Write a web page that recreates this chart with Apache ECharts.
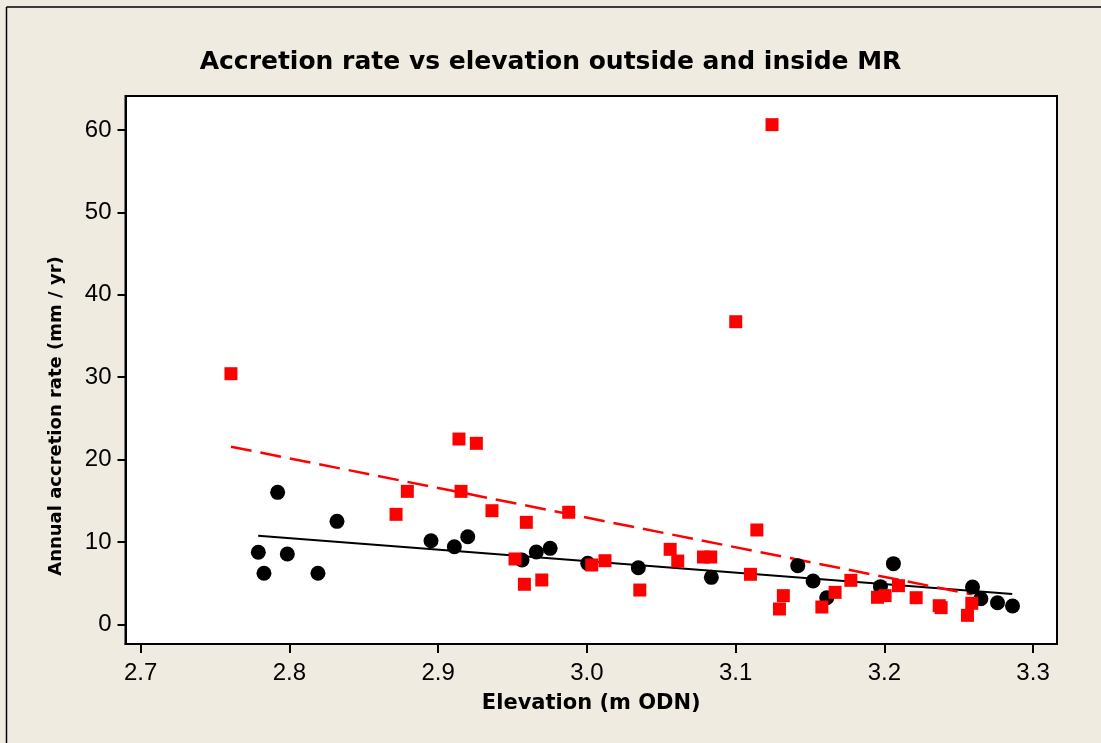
<!DOCTYPE html>
<html>
<head>
<meta charset="utf-8">
<script src="https://cdn.jsdelivr.net/npm/echarts@6/dist/echarts.min.js"></script>
<style>
  html, body { margin: 0; padding: 0; background: #EFEBE1; }
  #chart { width: 1101px; height: 743px; }
</style>
</head>
<body>
<div id="chart"></div>
<script>
// Elevation (m ODN) and annual accretion rate (mm/yr), outside the MR site
const elevOutside = [2.7791, 2.7829, 2.7921, 2.7986, 2.8192, 2.8320, 2.8952, 2.9109, 2.9199, 2.9564, 2.9660, 2.9753,
                     3.0006, 3.0346, 3.0837, 3.1418, 3.1521, 3.1613, 3.1974, 3.2061, 3.2593, 3.2649, 3.2761, 3.2862];
const rateOutside = [8.74, 6.19, 16.02, 8.53, 6.19, 12.50, 10.15, 9.42, 10.63, 7.80, 8.78, 9.22,
                     7.40, 6.87, 5.70, 7.12, 5.26, 3.23, 4.57, 7.36, 4.53, 3.11, 2.62, 2.22];

// Inside the MR site
const elevInside = [2.7607, 2.8717, 2.8793, 2.9140, 2.9154, 2.9257, 2.9362, 2.9517, 2.9580, 2.9593, 2.9697, 2.9878,
                    3.0033, 3.0122, 3.0356, 3.0560, 3.0611, 3.0784, 3.0833, 3.1001, 3.1100, 3.1143, 3.1245, 3.1295,
                    3.1321, 3.1580, 3.1669, 3.1775, 3.1954, 3.2005, 3.2095, 3.2214, 3.2369, 3.2382, 3.2559, 3.2588];
const rateInside = [30.42, 13.35, 16.14, 22.49, 16.14, 21.97, 13.79, 7.93, 4.86, 12.38, 5.38, 13.60,
                    7.20, 7.72, 4.16, 9.10, 7.68, 8.17, 8.17, 36.73, 6.07, 11.45, 60.65, 1.86,
                    3.48, 2.10, 3.88, 5.34, 3.28, 3.48, 4.69, 3.23, 2.26, 2.02, 1.09, 2.55];

// Fitted regression lines: [elevation, rate] at each end
const fitOutside = [[2.779, 10.76], [3.286, 3.68]];
const fitInside = [[2.7607, 21.56], [3.2588, 3.64]];

// Tick labels
const xTicks = [2.7, 2.8, 2.9, 3.0, 3.1, 3.2, 3.3];
const yTicks = [0, 10, 20, 30, 40, 50, 60];

const pairs = (xs, ys) => xs.map((x, i) => [x, ys[i]]);

const chart = echarts.init(document.getElementById('chart'), null, { renderer: 'canvas' });

const tickLabelFont = { color: '#000', fontFamily: 'Liberation Sans', fontSize: 24 };

chart.setOption({
  backgroundColor: '#EFEBE1',
  animation: false,
  title: {
    text: 'Accretion rate vs elevation outside and inside MR',
    left: 'center',
    top: 45,
    textStyle: { color: '#000', fontFamily: 'DejaVu Sans', fontWeight: 'bold', fontSize: 25 }
  },
  graphic: [
    { type: 'line', shape: { x1: 6.5, y1: 7, x2: 1101, y2: 7 }, style: { stroke: '#000', lineWidth: 1.5 } },
    { type: 'line', shape: { x1: 6.5, y1: 7, x2: 6.5, y2: 743 }, style: { stroke: '#000', lineWidth: 1.5 } }
  ],
  grid: {
    left: 125.5, top: 96, right: 44, bottom: 99,
    show: true, backgroundColor: '#fff', borderColor: '#000', borderWidth: 2
  },
  xAxis: {
    type: 'value',
    min: 2.6898, max: 3.3161,
    name: 'Elevation (m ODN)',
    nameLocation: 'middle',
    nameGap: 49,
    nameTextStyle: { color: '#000', fontFamily: 'DejaVu Sans', fontWeight: 'bold', fontSize: 21 },
    axisLine: { show: true, onZero: false, lineStyle: { color: '#000', width: 2 } },
    axisTick: { show: true, customValues: xTicks, length: 9, lineStyle: { color: '#000', width: 2 } },
    axisLabel: { customValues: xTicks, margin: 17, formatter: v => v.toFixed(1), ...tickLabelFont },
    splitLine: { show: false }
  },
  yAxis: {
    type: 'value',
    min: -2.39, max: 64.13,
    name: 'Annual accretion rate (mm / yr)',
    nameLocation: 'middle',
    nameGap: 60,
    nameTextStyle: {
      color: '#000', fontFamily: 'DejaVu Sans', fontWeight: 'bold', fontSize: 18,
      padding: [0, 92, 0, 0]
    },
    axisLine: { show: true, onZero: false, lineStyle: { color: '#000', width: 2 } },
    axisTick: { show: true, customValues: yTicks, length: 8, lineStyle: { color: '#000', width: 2 } },
    axisLabel: { customValues: yTicks, margin: 14, ...tickLabelFont },
    splitLine: { show: false }
  },
  series: [
    {
      name: 'Outside MR fit', type: 'line', data: fitOutside, symbol: 'none',
      lineStyle: { color: '#000', width: 2 }, z: 2
    },
    {
      name: 'Inside MR fit', type: 'line', data: fitInside, symbol: 'none',
      lineStyle: { color: '#FF0000', width: 2.5, type: [21, 9] }, z: 2
    },
    {
      name: 'Outside MR', type: 'scatter', data: pairs(elevOutside, rateOutside),
      symbol: 'circle', symbolSize: 15, itemStyle: { color: '#000', opacity: 1 }, z: 3
    },
    {
      name: 'Inside MR', type: 'scatter', data: pairs(elevInside, rateInside),
      symbol: 'rect', symbolSize: 13, itemStyle: { color: '#FF0000', opacity: 1 }, z: 4
    }
  ]
});
</script>
</body>
</html>
